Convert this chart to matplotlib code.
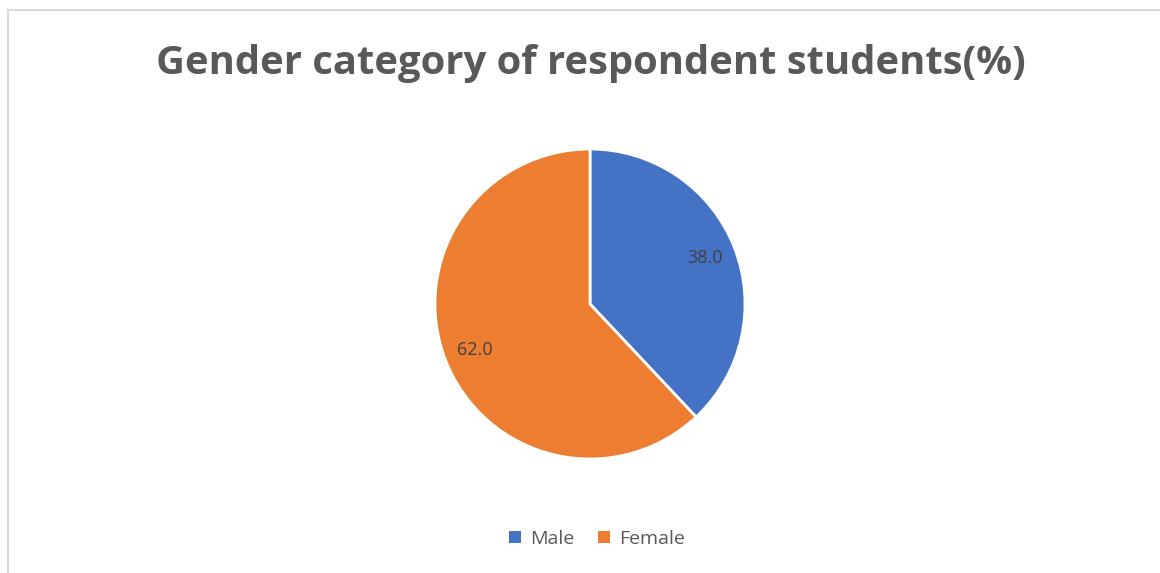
import matplotlib.pyplot as plt
from matplotlib.lines import Line2D
from matplotlib.patches import Patch

# Data
labels = ['Male', 'Female']
values = [38.0, 62.0]
colors = ['#4472C4', '#ED7D31']

fig = plt.figure(figsize=(11.6, 5.73), dpi=100)
fig.patch.set_facecolor('white')

# chart frame (only top and left edge visible in the crop)
fig.add_artist(Line2D([8/1160, 8/1160], [0, 1 - 9.5/573], color='#D9D9D9', lw=1.5))
fig.add_artist(Line2D([8/1160, 1], [1 - 9.5/573, 1 - 9.5/573], color='#D9D9D9', lw=1.5))

ax = fig.add_axes([435/1160, (573 - 459)/573, 310/1160, 310/573])
wedges, texts = ax.pie(values, colors=colors, startangle=90, counterclock=False,
                       labels=[f'{v:.1f}' for v in values], labeldistance=0.8,
                       wedgeprops={'edgecolor': 'white', 'linewidth': 2},
                       textprops={'fontsize': 13, 'color': '#404040', 'family': 'Open Sans'})
for t in texts:
    t.set_horizontalalignment('center')
ax.set_xlim(-1, 1)
ax.set_ylim(-1, 1)
ax.set_aspect('equal')

fig.text(591/1160, 1 - 63/573, 'Gender category of respondent students(%)', ha='center', va='center',
         fontsize=28.8, fontweight='bold', color='#595959', family='Open Sans')

handles = [Patch(facecolor=c, label=l) for c, l in zip(colors, labels)]
fig.legend(handles=handles, loc='center', bbox_to_anchor=(597/1160, 1 - 539/573), ncol=2,
           frameon=False, handlelength=0.6, handleheight=0.6, handletextpad=0.5, columnspacing=1.2,
           prop={'family': 'Open Sans', 'size': 14}, labelcolor='#595959')

fig.savefig('out.png', dpi=100)
